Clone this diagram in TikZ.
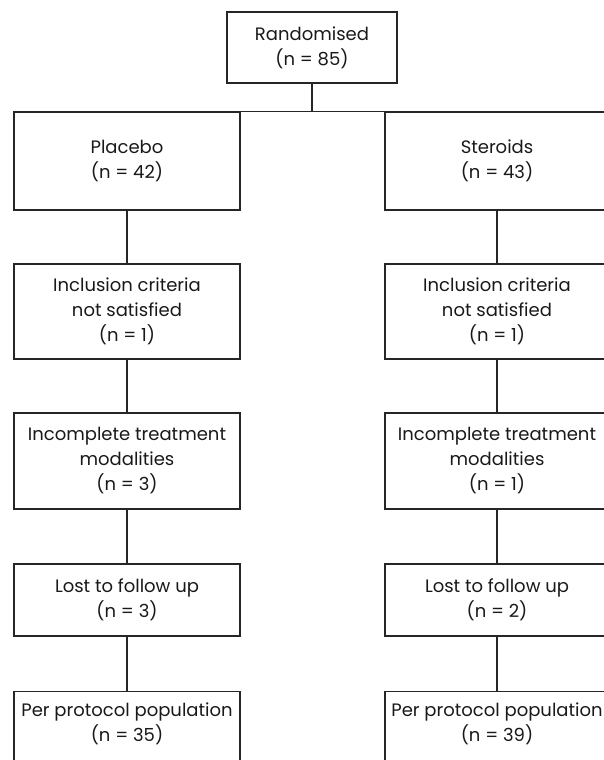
\documentclass[tikz,border=0pt]{standalone}
\usepackage{fontspec}
\setmainfont{Poppins}
\begin{document}
\begin{tikzpicture}[x=1pt,y=-1pt,
  line width=1.2pt, draw=black!85,
  fbox/.style={draw=black!85, line width=1.2pt, align=center, inner sep=2pt,
    font=\fontsize{18}{25}\selectfont, text=black!90},
  lbox/.style={fbox, minimum width=226pt},
  rbox/.style={fbox, minimum width=224pt}]
\clip (0,0) rectangle (604,760);
\useasboundingbox (0,0) rectangle (604,760);
\node[fbox, minimum width=170pt, minimum height=71pt] (rand) at (312,47.5) {Randomised\\(n = 85)};
\node[lbox, minimum height=98pt] (plac) at (127,161) {Placebo\\(n = 42)};
\node[rbox, minimum height=98pt] (ster) at (497,161) {Steroids\\(n = 43)};
\node[lbox, minimum height=95pt] (linc) at (127,311.5) {Inclusion criteria\\not satisfied\\(n = 1)};
\node[rbox, minimum height=95pt] (rinc) at (497,311.5) {Inclusion criteria\\not satisfied\\(n = 1)};
\node[lbox, minimum height=96pt] (lmod) at (127,461) {Incomplete treatment\\modalities\\(n = 3)};
\node[rbox, minimum height=96pt] (rmod) at (497,461) {Incomplete treatment\\modalities\\(n = 1)};
\node[lbox, minimum height=72pt] (llost) at (127,600) {Lost to follow up\\(n = 3)};
\node[rbox, minimum height=72pt] (rlost) at (497,600) {Lost to follow up\\(n = 2)};
\node[lbox, anchor=north, inner ysep=11pt, text depth=60pt] (lpp) at (127,691) {Per protocol population\\(n = 35)};
\node[rbox, anchor=north, inner ysep=11pt, text depth=60pt] (rpp) at (497,691) {Per protocol population\\(n = 39)};
\coordinate (split) at (312,112);
\draw (rand.south) -- (split);
\draw (plac.north) -- (ster.north);
\draw (plac.south) -- (linc.north);
\draw (linc.south) -- (lmod.north);
\draw (lmod.south) -- (llost.north);
\draw (llost.south) -- (lpp.north);
\draw (ster.south) -- (rinc.north);
\draw (rinc.south) -- (rmod.north);
\draw (rmod.south) -- (rlost.north);
\draw (rlost.south) -- (rpp.north);
\end{tikzpicture}
\end{document}
